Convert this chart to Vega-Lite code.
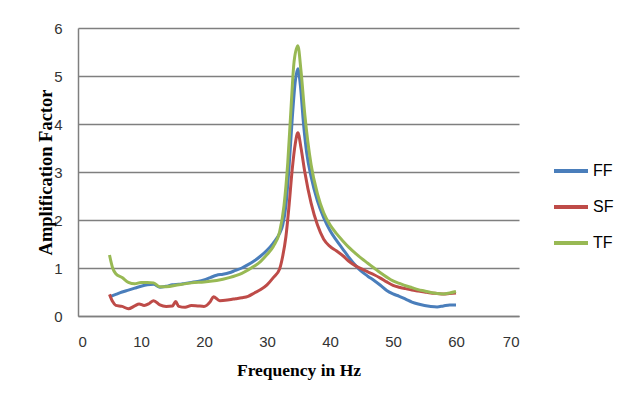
{
  "$schema": "https://vega.github.io/schema/vega-lite/v6.json",
  "autosize": "none",
  "padding": {"left": 78, "top": 28, "right": 107, "bottom": 93},
  "width": 441,
  "height": 288,
  "background": "white",
  "config": {
    "view": {"stroke": null},
    "font": "Liberation Sans"
  },
  "datasets": {
    "curves": [
      {"f": 5, "a": 0.40, "s": "FF"}, {"f": 6, "a": 0.45, "s": "FF"}, {"f": 7, "a": 0.50, "s": "FF"}, {"f": 8, "a": 0.54, "s": "FF"}, {"f": 9, "a": 0.58, "s": "FF"}, {"f": 10, "a": 0.62, "s": "FF"}, {"f": 11, "a": 0.65, "s": "FF"}, {"f": 12, "a": 0.66, "s": "FF"}, {"f": 13, "a": 0.60, "s": "FF"}, {"f": 14, "a": 0.62, "s": "FF"}, {"f": 15, "a": 0.65, "s": "FF"}, {"f": 16, "a": 0.66, "s": "FF"}, {"f": 17, "a": 0.68, "s": "FF"}, {"f": 18, "a": 0.70, "s": "FF"}, {"f": 19, "a": 0.72, "s": "FF"}, {"f": 20, "a": 0.75, "s": "FF"}, {"f": 21, "a": 0.80, "s": "FF"}, {"f": 22, "a": 0.85, "s": "FF"}, {"f": 23, "a": 0.87, "s": "FF"}, {"f": 24, "a": 0.90, "s": "FF"}, {"f": 25, "a": 0.95, "s": "FF"}, {"f": 26, "a": 1.00, "s": "FF"}, {"f": 27, "a": 1.07, "s": "FF"}, {"f": 28, "a": 1.15, "s": "FF"}, {"f": 29, "a": 1.25, "s": "FF"}, {"f": 30, "a": 1.37, "s": "FF"}, {"f": 31, "a": 1.52, "s": "FF"}, {"f": 32, "a": 1.72, "s": "FF"}, {"f": 32.5, "a": 1.90, "s": "FF"}, {"f": 33, "a": 2.30, "s": "FF"}, {"f": 33.5, "a": 3.10, "s": "FF"}, {"f": 34, "a": 4.10, "s": "FF"}, {"f": 34.5, "a": 4.90, "s": "FF"}, {"f": 34.9, "a": 5.15, "s": "FF"}, {"f": 35.3, "a": 4.80, "s": "FF"}, {"f": 35.8, "a": 4.00, "s": "FF"}, {"f": 36.3, "a": 3.40, "s": "FF"}, {"f": 37, "a": 2.90, "s": "FF"}, {"f": 38, "a": 2.40, "s": "FF"}, {"f": 39, "a": 2.05, "s": "FF"}, {"f": 40, "a": 1.78, "s": "FF"}, {"f": 41, "a": 1.58, "s": "FF"}, {"f": 42, "a": 1.40, "s": "FF"}, {"f": 43, "a": 1.22, "s": "FF"}, {"f": 44, "a": 1.06, "s": "FF"}, {"f": 45, "a": 0.93, "s": "FF"}, {"f": 46, "a": 0.83, "s": "FF"}, {"f": 47, "a": 0.74, "s": "FF"}, {"f": 48, "a": 0.64, "s": "FF"}, {"f": 49, "a": 0.53, "s": "FF"}, {"f": 50, "a": 0.46, "s": "FF"}, {"f": 51, "a": 0.41, "s": "FF"}, {"f": 52, "a": 0.35, "s": "FF"}, {"f": 53, "a": 0.29, "s": "FF"}, {"f": 54, "a": 0.25, "s": "FF"}, {"f": 55, "a": 0.22, "s": "FF"}, {"f": 56, "a": 0.20, "s": "FF"}, {"f": 57, "a": 0.19, "s": "FF"}, {"f": 58, "a": 0.21, "s": "FF"}, {"f": 59, "a": 0.23, "s": "FF"}, {"f": 60, "a": 0.23, "s": "FF"},
      {"f": 5, "a": 0.45, "s": "SF"}, {"f": 5.5, "a": 0.30, "s": "SF"}, {"f": 6, "a": 0.22, "s": "SF"}, {"f": 7, "a": 0.20, "s": "SF"}, {"f": 8, "a": 0.15, "s": "SF"}, {"f": 9, "a": 0.21, "s": "SF"}, {"f": 9.7, "a": 0.25, "s": "SF"}, {"f": 10.5, "a": 0.22, "s": "SF"}, {"f": 11.3, "a": 0.26, "s": "SF"}, {"f": 12, "a": 0.32, "s": "SF"}, {"f": 13, "a": 0.23, "s": "SF"}, {"f": 14, "a": 0.20, "s": "SF"}, {"f": 15, "a": 0.21, "s": "SF"}, {"f": 15.5, "a": 0.30, "s": "SF"}, {"f": 16, "a": 0.20, "s": "SF"}, {"f": 17, "a": 0.18, "s": "SF"}, {"f": 18, "a": 0.22, "s": "SF"}, {"f": 19, "a": 0.21, "s": "SF"}, {"f": 20, "a": 0.20, "s": "SF"}, {"f": 21, "a": 0.30, "s": "SF"}, {"f": 21.5, "a": 0.40, "s": "SF"}, {"f": 22.5, "a": 0.32, "s": "SF"}, {"f": 24, "a": 0.34, "s": "SF"}, {"f": 25, "a": 0.36, "s": "SF"}, {"f": 26, "a": 0.38, "s": "SF"}, {"f": 27, "a": 0.41, "s": "SF"}, {"f": 28, "a": 0.48, "s": "SF"}, {"f": 29, "a": 0.55, "s": "SF"}, {"f": 30, "a": 0.65, "s": "SF"}, {"f": 31, "a": 0.80, "s": "SF"}, {"f": 32, "a": 0.98, "s": "SF"}, {"f": 32.5, "a": 1.25, "s": "SF"}, {"f": 33, "a": 1.65, "s": "SF"}, {"f": 33.5, "a": 2.30, "s": "SF"}, {"f": 34, "a": 3.05, "s": "SF"}, {"f": 34.5, "a": 3.60, "s": "SF"}, {"f": 34.9, "a": 3.82, "s": "SF"}, {"f": 35.4, "a": 3.50, "s": "SF"}, {"f": 36, "a": 3.00, "s": "SF"}, {"f": 37, "a": 2.35, "s": "SF"}, {"f": 38, "a": 1.90, "s": "SF"}, {"f": 39, "a": 1.60, "s": "SF"}, {"f": 40, "a": 1.45, "s": "SF"}, {"f": 41, "a": 1.36, "s": "SF"}, {"f": 42, "a": 1.26, "s": "SF"}, {"f": 43, "a": 1.14, "s": "SF"}, {"f": 44, "a": 1.05, "s": "SF"}, {"f": 45, "a": 0.98, "s": "SF"}, {"f": 46, "a": 0.92, "s": "SF"}, {"f": 47, "a": 0.86, "s": "SF"}, {"f": 48, "a": 0.79, "s": "SF"}, {"f": 49, "a": 0.71, "s": "SF"}, {"f": 50, "a": 0.64, "s": "SF"}, {"f": 51, "a": 0.60, "s": "SF"}, {"f": 52, "a": 0.57, "s": "SF"}, {"f": 53, "a": 0.54, "s": "SF"}, {"f": 54, "a": 0.52, "s": "SF"}, {"f": 55, "a": 0.50, "s": "SF"}, {"f": 56, "a": 0.48, "s": "SF"}, {"f": 57, "a": 0.47, "s": "SF"}, {"f": 58, "a": 0.46, "s": "SF"}, {"f": 59, "a": 0.47, "s": "SF"}, {"f": 60, "a": 0.48, "s": "SF"},
      {"f": 5, "a": 1.27, "s": "TF"}, {"f": 5.5, "a": 1.00, "s": "TF"}, {"f": 6, "a": 0.88, "s": "TF"}, {"f": 7, "a": 0.80, "s": "TF"}, {"f": 8, "a": 0.70, "s": "TF"}, {"f": 9, "a": 0.67, "s": "TF"}, {"f": 10, "a": 0.70, "s": "TF"}, {"f": 11, "a": 0.70, "s": "TF"}, {"f": 12, "a": 0.69, "s": "TF"}, {"f": 13, "a": 0.61, "s": "TF"}, {"f": 14, "a": 0.61, "s": "TF"}, {"f": 16, "a": 0.65, "s": "TF"}, {"f": 18, "a": 0.69, "s": "TF"}, {"f": 20, "a": 0.71, "s": "TF"}, {"f": 22, "a": 0.74, "s": "TF"}, {"f": 24, "a": 0.80, "s": "TF"}, {"f": 26, "a": 0.89, "s": "TF"}, {"f": 28, "a": 1.04, "s": "TF"}, {"f": 29, "a": 1.14, "s": "TF"}, {"f": 30, "a": 1.28, "s": "TF"}, {"f": 31, "a": 1.45, "s": "TF"}, {"f": 32, "a": 1.75, "s": "TF"}, {"f": 32.7, "a": 2.30, "s": "TF"}, {"f": 33.3, "a": 3.20, "s": "TF"}, {"f": 33.8, "a": 4.30, "s": "TF"}, {"f": 34.3, "a": 5.30, "s": "TF"}, {"f": 34.9, "a": 5.63, "s": "TF"}, {"f": 35.4, "a": 5.10, "s": "TF"}, {"f": 36, "a": 4.20, "s": "TF"}, {"f": 37, "a": 3.15, "s": "TF"}, {"f": 38, "a": 2.55, "s": "TF"}, {"f": 39, "a": 2.15, "s": "TF"}, {"f": 40, "a": 1.90, "s": "TF"}, {"f": 41, "a": 1.72, "s": "TF"}, {"f": 42, "a": 1.57, "s": "TF"}, {"f": 43, "a": 1.43, "s": "TF"}, {"f": 44, "a": 1.31, "s": "TF"}, {"f": 45, "a": 1.20, "s": "TF"}, {"f": 46, "a": 1.10, "s": "TF"}, {"f": 47, "a": 1.00, "s": "TF"}, {"f": 48, "a": 0.90, "s": "TF"}, {"f": 49, "a": 0.81, "s": "TF"}, {"f": 50, "a": 0.73, "s": "TF"}, {"f": 51, "a": 0.68, "s": "TF"}, {"f": 52, "a": 0.63, "s": "TF"}, {"f": 53, "a": 0.59, "s": "TF"}, {"f": 54, "a": 0.55, "s": "TF"}, {"f": 55, "a": 0.52, "s": "TF"}, {"f": 56, "a": 0.49, "s": "TF"}, {"f": 57, "a": 0.47, "s": "TF"}, {"f": 58, "a": 0.46, "s": "TF"}, {"f": 59, "a": 0.48, "s": "TF"}, {"f": 60, "a": 0.51, "s": "TF"}
    ]
  },
  "data": {"name": "curves"},
  "mark": {"type": "line", "strokeWidth": 3, "interpolate": "monotone"},
  "encoding": {
    "x": {
      "field": "f", "type": "quantitative",
      "scale": {"domain": [0, 70], "nice": false},
      "axis": {
        "title": "Frequency in Hz", "values": [0, 10, 20, 30, 40, 50, 60, 70],
        "grid": false, "ticks": false, "domain": true, "domainColor": "#7f7f7f", "domainWidth": 1.5,
        "labelFont": "Liberation Sans", "labelFontSize": 15, "labelColor": "#333", "labelPadding": 18,
        "titleFont": "Liberation Serif", "titleFontSize": 17.5, "titleFontWeight": "bold", "titleColor": "#000", "titlePadding": 12
      }
    },
    "y": {
      "field": "a", "type": "quantitative",
      "scale": {"domain": [0, 6], "nice": false},
      "axis": {
        "title": "Amplification Factor", "values": [0, 1, 2, 3, 4, 5, 6],
        "grid": true, "gridColor": "#7f7f7f", "gridWidth": 1.5, "ticks": false, "domain": true, "domainColor": "#7f7f7f", "domainWidth": 1.5,
        "labelFont": "Liberation Sans", "labelFontSize": 15, "labelColor": "#333", "labelPadding": 16,
        "titleFont": "Liberation Serif", "titleFontSize": 18.5, "titleFontWeight": "bold", "titleColor": "#000", "titlePadding": -2
      }
    },
    "color": {
      "field": "s", "type": "nominal",
      "scale": {"domain": ["FF", "SF", "TF"], "range": ["#4a7ebb", "#be4b48", "#98b954"]},
      "legend": {
        "title": null, "orient": "none", "legendX": 474, "legendY": 124,
        "symbolType": "stroke", "symbolSize": 1156, "symbolStrokeWidth": 4,
        "rowPadding": 9, "labelOffset": 3,
        "labelFont": "Liberation Sans", "labelFontSize": 16, "labelColor": "#000"
      }
    }
  }
}
